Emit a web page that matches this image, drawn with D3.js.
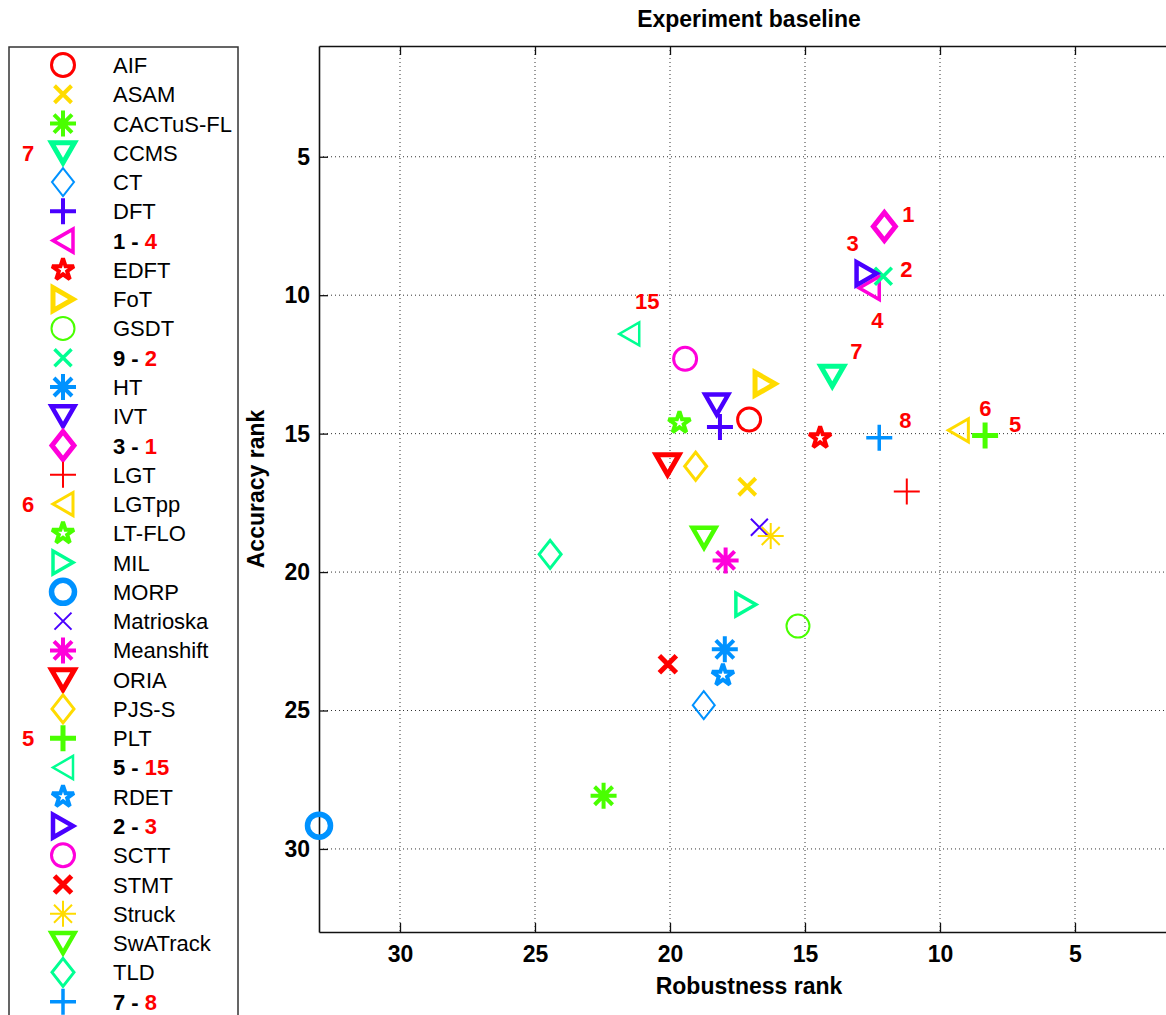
<!DOCTYPE html>
<html>
<head>
<meta charset="utf-8">
<script src="https://cdn.jsdelivr.net/npm/d3@7/dist/d3.min.js"></script>
<style>
  html, body { margin: 0; padding: 0; background: #fff; }
  svg { display: block; font-family: "Liberation Sans", Arial, Helvetica, sans-serif; }
</style>
</head>
<body>
<svg id="chart" width="1166" height="1015"></svg>
<script>
// Trackers in legend order; anonymised entries are given by their id number.
const trackers = ['AIF', 'ASAM', 'CACTuS-FL', 'CCMS', 'CT', 'DFT', '1', 'EDFT', 'FoT', 'GSDT',
  '9', 'HT', 'IVT', '3', 'LGT', 'LGTpp', 'LT-FLO', 'MIL', 'MORP', 'Matrioska',
  'Meanshift', 'ORIA', 'PJS-S', 'PLT', '5', 'RDET', '2', 'SCTT', 'STMT', 'Struck',
  'SwATrack', 'TLD', '7'];

const robustnessRank = [17.07, 17.14, 22.46, 13.99, 18.75, 18.15, 12.62, 14.44, 16.48, 15.26,
  12.10, 17.97, 18.27, 12.06, 11.23, 9.32, 19.65, 17.19, 33.00, 16.69,
  17.94, 20.09, 19.05, 8.33, 21.51, 18.04, 12.72, 19.44, 20.08, 16.27,
  18.74, 24.44, 12.25];

const accuracyRank = [14.49, 16.92, 28.08, 12.93, 24.81, 14.76, 9.74, 15.15, 13.20, 21.95,
  9.32, 22.79, 13.95, 7.52, 17.09, 14.88, 14.61, 21.17, 29.16, 18.38,
  19.58, 16.12, 16.18, 15.07, 11.40, 23.73, 9.22, 12.30, 23.33, 18.70,
  18.76, 19.36, 15.15];

// Overall rank tags shown in red next to the leading trackers.
const rankTags = ['', '', '', '7', '', '', '4', '', '', '',
  '2', '', '', '1', '', '6', '', '', '', '',
  '', '', '', '5', '15', '', '3', '', '', '',
  '', '', '8'];

const xTicks = [30, 25, 20, 15, 10, 5];
const yTicks = [5, 10, 15, 20, 25, 30];

// ---- styling ----
const palette = ['#ff0000', '#ffdb00', '#49ff00', '#00ff92', '#0092ff', '#4900ff', '#ff00db'];
const markerCycle = ['o', 'x', '*', 'v', 'd', '+', '<', 'p', '>'];
const strokeWidths = [3, 4, 4, 5, 2, 4, 3.5, 4, 5, 2,
  3.5, 4, 4.5, 5, 2, 3, 4, 3.5, 5.5, 2,
  4, 5, 3, 5, 2.5, 4, 4.5, 3, 5, 2,
  4.5, 3, 3.5];
// where each red tag sits relative to its marker
const tagOffsets = {3: [24, -25], 6: [8, 32], 10: [23, -7], 13: [24, -12], 15: [27, -22],
  23: [30, -11], 24: [18, -33], 26: [-14, -31], 32: [26, -18]};

function markerPath(type) {
  switch (type) {
    case 'o': { const r = 11.5; return `M${r},0A${r},${r} 0 1,1 ${-r},0A${r},${r} 0 1,1 ${r},0Z`; }
    case 'x': return 'M-8.5,-8.5L8.5,8.5M-8.5,8.5L8.5,-8.5';
    case '+': return 'M-13,0H13M0,-13V13';
    case '*': return 'M-13,0H13M0,-13V13M-9,-9L9,9M-9,9L9,-9';
    case 'v': return 'M-11.5,-10H11.5L0,10Z';
    case '<': return 'M10,-11.5V11.5L-10,0Z';
    case '>': return 'M-10,-11.5V11.5L10,0Z';
    case 'd': return 'M0,-14L11,0L0,14L-11,0Z';
    case 'p': {
      const R = 11.5, r = R * 0.382, pts = [];
      for (let k = 0; k < 10; k++) {
        const a = -Math.PI / 2 + k * Math.PI / 5, rad = k % 2 ? r : R;
        pts.push([rad * Math.cos(a), rad * Math.sin(a)]);
      }
      return 'M' + pts.map(p => p[0].toFixed(2) + ',' + p[1].toFixed(2)).join('L') + 'Z';
    }
  }
  return '';
}

const points = trackers.map((name, i) => ({
  name,
  anonymous: /^\d+$/.test(name),
  rob: robustnessRank[i],
  acc: accuracyRank[i],
  tag: rankTags[i],
  color: palette[i % palette.length],
  marker: markerCycle[i % markerCycle.length],
  sw: strokeWidths[i],
  i
}));

const svg = d3.select('#chart');
const plotLeft = 319, plotRight = 1183, plotTop = 46, plotBottom = 932;

const x = d3.scaleLinear().domain([33, 1]).range([plotLeft, plotRight]);
const y = d3.scaleLinear().domain([1, 33]).range([plotTop, plotBottom]);

// dotted grid
const grid = svg.append('g').attr('stroke', '#333').attr('stroke-width', 1).attr('stroke-dasharray', '1,3');
grid.selectAll('line.v').data(xTicks).join('line').attr('class', 'v')
  .attr('x1', d => x(d)).attr('x2', d => x(d)).attr('y1', plotTop).attr('y2', plotBottom);
grid.selectAll('line.h').data(yTicks).join('line').attr('class', 'h')
  .attr('x1', plotLeft).attr('x2', plotRight).attr('y1', d => y(d)).attr('y2', d => y(d));

// axes with inward ticks
const fontSize = 23;
const bottomAxis = svg.append('g').attr('transform', `translate(0,${plotBottom})`)
  .call(d3.axisBottom(x).tickValues(xTicks).tickSize(-9).tickSizeOuter(0).tickPadding(14));
const topAxis = svg.append('g').attr('transform', `translate(0,${plotTop})`)
  .call(d3.axisTop(x).tickValues(xTicks).tickSize(-9).tickSizeOuter(0).tickFormat(''));
const leftAxis = svg.append('g').attr('transform', `translate(${plotLeft},0)`)
  .call(d3.axisLeft(y).tickValues(yTicks).tickSize(-9).tickSizeOuter(0).tickPadding(9));
[bottomAxis, topAxis, leftAxis].forEach(g => {
  g.select('.domain').attr('stroke', '#111').attr('stroke-width', 1.6);
  g.selectAll('.tick line').attr('stroke', '#111').attr('stroke-width', 1.3);
  g.selectAll('.tick text').attr('fill', '#000').style('font-size', fontSize + 'px')
    .style('font-weight', 'bold').style('font-family', '"Liberation Sans", Arial, sans-serif');
});

// titles
svg.append('text').attr('x', 749).attr('y', 27).attr('text-anchor', 'middle')
  .style('font-size', '23px').style('font-weight', 'bold').text('Experiment baseline');
svg.append('text').attr('x', 749).attr('y', 994).attr('text-anchor', 'middle')
  .style('font-size', '23px').style('font-weight', 'bold').text('Robustness rank');
svg.append('text').attr('transform', 'translate(263.5,489) rotate(-90)').attr('text-anchor', 'middle')
  .style('font-size', '23px').style('font-weight', 'bold').text('Accuracy rank');

// markers
function drawMarker(sel) {
  sel.append('path')
    .attr('d', d => markerPath(d.marker))
    .attr('fill', 'none')
    .attr('stroke', d => d.color)
    .attr('stroke-width', d => d.sw)
    .attr('stroke-linejoin', 'miter')
    .attr('stroke-miterlimit', 2.1);
}

const marks = svg.append('g').selectAll('g').data(points).join('g')
  .attr('transform', d => `translate(${x(d.rob)},${y(d.acc)})`);
drawMarker(marks);

// red rank tags beside the leading trackers
svg.append('g').selectAll('text').data(points.filter(d => d.tag)).join('text')
  .attr('x', d => x(d.rob) + tagOffsets[d.i][0])
  .attr('y', d => y(d.acc) + tagOffsets[d.i][1])
  .attr('dy', '0.36em')
  .attr('text-anchor', 'middle')
  .attr('fill', '#ff0000')
  .style('font-size', '22px').style('font-weight', 'bold')
  .text(d => d.tag);

// legend
const legend = svg.append('g');
legend.append('rect').attr('x', 9).attr('y', 47).attr('width', 229).attr('height', 1010)
  .attr('fill', '#fff').attr('stroke', '#333').attr('stroke-width', 1.5);
const rowY = i => 65 + i * 29.27;
const rows = legend.selectAll('g.row').data(points).join('g')
  .attr('class', 'row')
  .attr('transform', d => `translate(63,${rowY(d.i)})`);
drawMarker(rows);
const labels = legend.selectAll('text.name').data(points).join('text')
  .attr('class', 'name')
  .attr('x', 113).attr('y', d => rowY(d.i) + 8)
  .style('font-size', '22px')
  .attr('fill', '#000');
labels.filter(d => !d.anonymous).text(d => d.name);
labels.filter(d => d.anonymous).style('font-weight', 'bold').each(function (d) {
  const t = d3.select(this);
  t.append('tspan').text(d.name + ' - ');
  t.append('tspan').attr('fill', '#ff0000').text(d.tag);
});
legend.selectAll('text.tag').data(points.filter(d => d.tag && !d.anonymous)).join('text')
  .attr('class', 'tag')
  .attr('x', 28).attr('y', d => rowY(d.i) + 8)
  .attr('text-anchor', 'middle')
  .attr('fill', '#ff0000')
  .style('font-size', '22px').style('font-weight', 'bold')
  .text(d => d.tag);
</script>
</body>
</html>
